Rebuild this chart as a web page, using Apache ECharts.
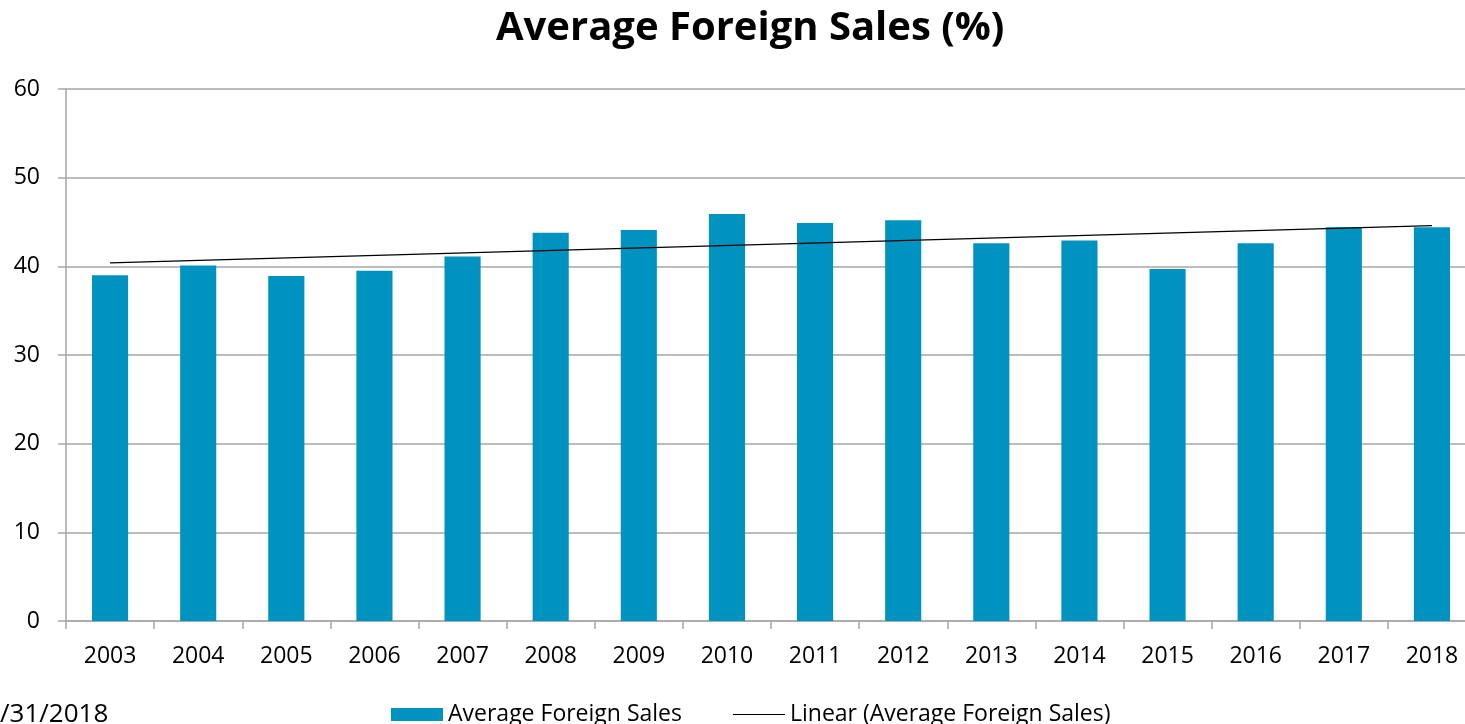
<!DOCTYPE html>
<html>
<head>
<meta charset="utf-8">
<title>Average Foreign Sales</title>
<script src="https://cdn.jsdelivr.net/npm/echarts@6/dist/echarts.min.js"></script>
<style>
  html, body { margin: 0; padding: 0; background: #fff; }
  #chart { width: 1465px; height: 724px; }
</style>
</head>
<body>
<div id="chart"></div>
<script>
const years = ['2003', '2004', '2005', '2006', '2007', '2008', '2009', '2010',
  '2011', '2012', '2013', '2014', '2015', '2016', '2017', '2018'];
const sales = [39.0, 40.1, 38.9, 39.5, 41.1, 43.8, 44.1, 45.9,
  44.9, 45.2, 42.6, 42.9, 39.7, 42.6, 44.4, 44.4];
// trend line: only its two ends
const trend = [40.4, null, null, null, null, null, null, null,
  null, null, null, null, null, null, null, 44.6];
const yTicks = [0, 10, 20, 30, 40, 50, 60];

const font = '"Open Sans", "Noto Sans", sans-serif';
const chart = echarts.init(document.getElementById('chart'));
chart.setOption({
  animation: false,
  title: {
    text: 'Average Foreign Sales (%)',
    left: 491,
    top: 4,
    textStyle: { fontFamily: font, fontSize: 40, fontWeight: 'bold', color: '#000' }
  },
  // the plot runs past the right edge of the picture
  grid: { left: 66, width: 1410, top: 89, bottom: 103, outerBoundsMode: 'none' },
  legend: {
    top: 703,
    left: 391,
    padding: 0,
    itemGap: 51,
    itemWidth: 52,
    itemHeight: 13,
    textStyle: { fontFamily: font, fontSize: 23, color: '#000' },
    data: [
      { name: 'Average Foreign Sales', icon: 'rect' },
      { name: 'Linear (Average Foreign Sales)', icon: 'path://M0,0H52V1H0Z' }
    ]
  },
  graphic: [{
    type: 'text',
    left: 0,
    top: 702,
    style: { text: '/31/2018', fontFamily: font, fontSize: 26, fill: '#000' }
  }],
  xAxis: {
    type: 'category',
    data: years,
    axisLine: { lineStyle: { color: '#a6a6a6', width: 1.5 } },
    axisTick: { show: true, length: 8, lineStyle: { color: '#a6a6a6', width: 1.5 } },
    axisLabel: { fontFamily: font, fontSize: 23, color: '#000', margin: 24 }
  },
  yAxis: {
    type: 'value',
    min: yTicks[0],
    max: yTicks[yTicks.length - 1],
    interval: 10,
    axisLine: { show: true, lineStyle: { color: '#a6a6a6', width: 1.5 } },
    axisTick: { show: true, length: 8, lineStyle: { color: '#a6a6a6', width: 1.5 } },
    splitLine: { lineStyle: { color: '#a6a6a6', width: 1.5 } },
    axisLabel: { fontFamily: font, fontSize: 23, color: '#000', margin: 26 }
  },
  series: [
    {
      name: 'Average Foreign Sales',
      type: 'bar',
      data: sales,
      barWidth: '41%',
      itemStyle: { color: '#0093bf' }
    },
    {
      name: 'Linear (Average Foreign Sales)',
      type: 'line',
      data: trend,
      connectNulls: true,
      symbol: 'none',
      lineStyle: { color: '#000', width: 1.3 },
      itemStyle: { color: '#000' }
    }
  ]
});
</script>
</body>
</html>
